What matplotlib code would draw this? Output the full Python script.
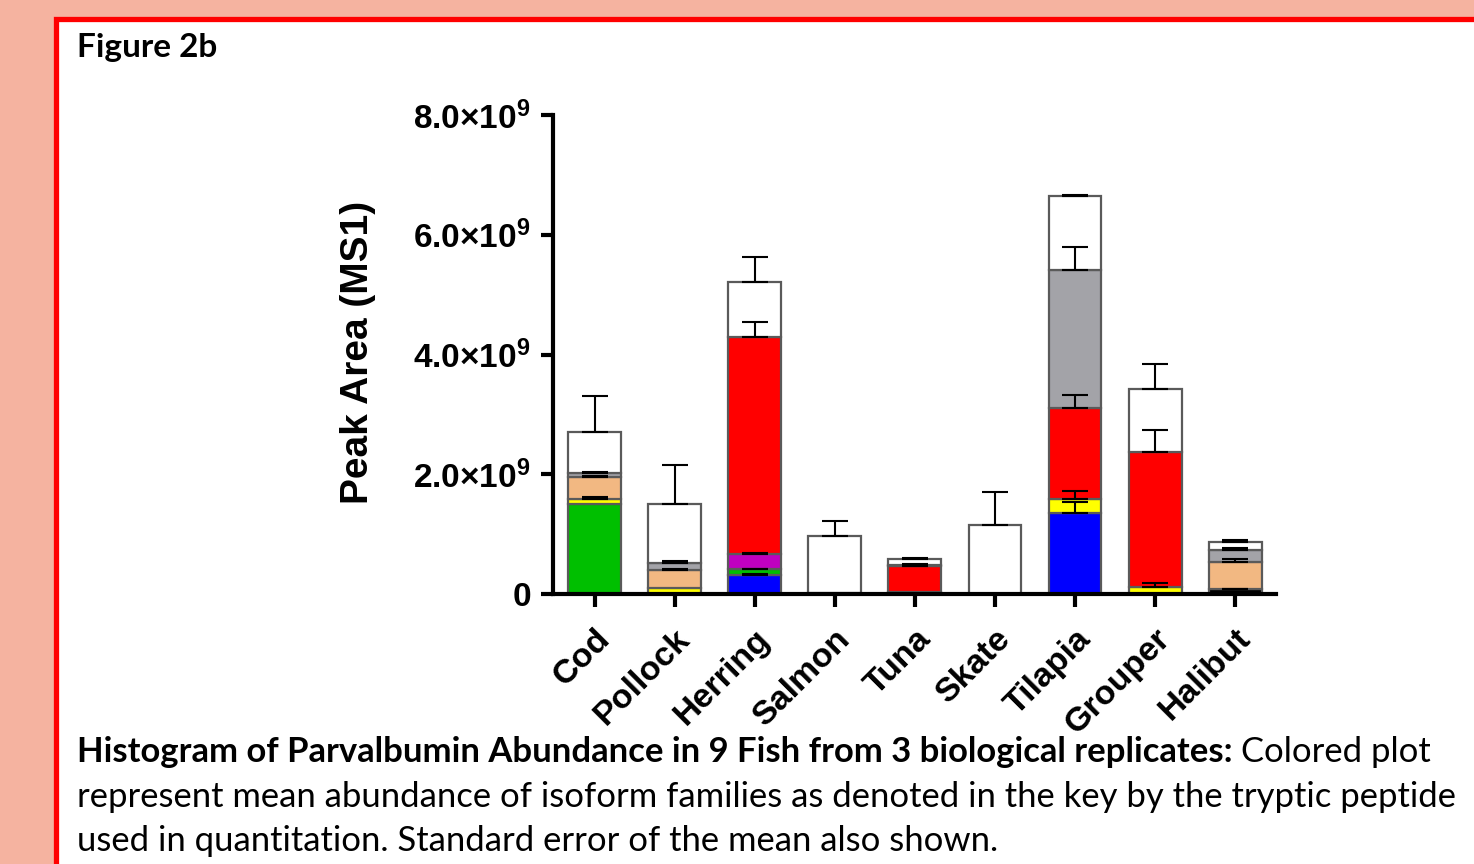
import matplotlib
matplotlib.use("Agg")
import matplotlib.pyplot as plt
import numpy as np
from matplotlib.patches import Rectangle
from matplotlib.transforms import ScaledTranslation

# ---- data (x1e9) ----
fish = ["Cod", "Pollock", "Herring", "Salmon", "Tuna", "Skate", "Tilapia", "Grouper", "Halibut"]

# stacked isoform-family segments, bottom to top
black_vals   = [0, 0, 0, 0, 0.04, 0, 0, 0, 0.08]
blue_vals    = [0, 0, 0.32, 0, 0, 0, 1.36, 0, 0]
green_vals   = [1.50, 0, 0.09, 0, 0, 0, 0, 0, 0]
yellow_vals  = [0.086, 0.095, 0, 0, 0, 0, 0.226, 0.12, 0]
magenta_vals = [0, 0, 0.26, 0, 0, 0, 0, 0, 0]
red_vals     = [0, 0, 3.62, 0, 0.42, 0, 1.514, 2.25, 0]
tan_vals     = [0.372, 0.305, 0, 0, 0.03, 0, 0, 0, 0.46]
gray_vals    = [0.067, 0.12, 0, 0.02, 0, 0, 2.31, 0, 0.195]
white_vals   = [0.675, 0.99, 0.92, 0.953, 0.09, 1.16, 1.23, 1.05, 0.138]

# standard error of the mean per segment
black_sem   = [0, 0, 0, 0, 0, 0, 0, 0, 0.01]
blue_sem    = [0, 0, 0.01, 0, 0, 0, 0.17, 0, 0]
green_sem   = [0.0, 0, 0.01, 0, 0, 0, 0, 0, 0]
yellow_sem  = [0.03, 0, 0, 0, 0, 0, 0.13, 0.06, 0]
magenta_sem = [0, 0, 0.02, 0, 0, 0, 0, 0, 0]
red_sem     = [0, 0, 0.25, 0, 0.01, 0, 0.22, 0.37, 0]
tan_sem     = [0.02, 0.02, 0, 0, 0.01, 0, 0, 0, 0.05]
gray_sem    = [0.01, 0.03, 0, 0, 0, 0, 0.38, 0, 0.025]
white_sem   = [0.61, 0.64, 0.42, 0.25, 0.02, 0.54, 0.03, 0.42, 0.03]

y_ticks = [0, 2, 4, 6, 8]
y_ticklabels = ["0", "2.0×10$^{9}$", "4.0×10$^{9}$", "6.0×10$^{9}$", "8.0×10$^{9}$"]

series = [
    (black_vals, black_sem, "#000000"),
    (blue_vals, blue_sem, "#0000FF"),
    (green_vals, green_sem, "#00BF00"),
    (yellow_vals, yellow_sem, "#FFFF00"),
    (magenta_vals, magenta_sem, "#C000C0"),
    (red_vals, red_sem, "#FF0000"),
    (tan_vals, tan_sem, "#F2B882"),
    (gray_vals, gray_sem, "#A3A3A8"),
    (white_vals, white_sem, "#FFFFFF"),
]

plt.rcParams['mathtext.default'] = 'regular'
plt.rcParams['font.family'] = ['Liberation Sans', 'DejaVu Sans']

W, H = 1474, 864
fig = plt.figure(figsize=(W / 100, H / 100), dpi=100)
fig.patch.set_facecolor("#F5B3A0")

# white panel with red border (behind the axes)
fig.patches.append(Rectangle((55.5 / W, -0.1), 1.2, (H - 18.5) / H + 0.1,
                             transform=fig.transFigure, facecolor="white",
                             edgecolor="#FF0000", linewidth=3.8, zorder=-5))

ax = fig.add_axes([553 / W, (H - 594) / H, 723 / W, 479 / H])
ax.set_facecolor("none")

x = np.arange(len(fish))
bottom = np.zeros(len(fish))
err_x, err_y, err_e = [], [], []
for vals, sem, col in series:
    vals = np.array(vals, dtype=float)
    m = vals > 0
    ax.bar(x[m], vals[m], bottom=bottom[m], width=0.66, color=col,
           edgecolor="#5a5a5a", linewidth=1.6, zorder=2)
    bottom = bottom + vals
    for i in range(len(fish)):
        if sem[i] > 0:
            err_x.append(x[i]); err_y.append(bottom[i]); err_e.append(sem[i])

err_e = np.array(err_e)
ax.errorbar(err_x, err_y, yerr=[np.zeros_like(err_e), err_e], fmt="none",
            ecolor="black", elinewidth=1.5, capsize=9.5, capthick=1.5, zorder=3)

ax.set_xlim(-0.52, 8.51)
ax.set_ylim(0, 8)
ax.set_yticks(y_ticks)
ax.set_yticklabels(y_ticklabels, fontweight="bold", fontsize=24)
ax.set_xticks(x)
ax.set_xticklabels(fish, rotation=45, ha="right", rotation_mode="anchor",
                   fontweight="bold", fontsize=24.5)
shift = ScaledTranslation(-8 / 100, 0, fig.dpi_scale_trans)
for lbl in ax.get_xticklabels():
    lbl.set_transform(lbl.get_transform() + shift)
for s in ["top", "right"]:
    ax.spines[s].set_visible(False)
for s in ["left", "bottom"]:
    ax.spines[s].set_linewidth(3)
ax.tick_params(axis="both", length=9, width=3, direction="out", pad=7)
ax.tick_params(axis="x", pad=12)
ax.set_ylabel("Peak Area (MS1)", fontsize=28, fontweight="bold")
ax.yaxis.set_label_coords(-0.245, 0.505)

# panel text
cap_font = dict(family=["Lato", "DejaVu Sans"], fontsize=24.9)
fig.text(77 / W, 1 - 48 / H, "Figure 2b", fontweight="bold", va="center",
         family=["Lato", "DejaVu Sans"], fontsize=24)
t1 = fig.text(77 / W, 1 - 752 / H,
              "Histogram of Parvalbumin Abundance in 9 Fish from 3 biological replicates:",
              fontweight="bold", va="center", **cap_font)
r = fig.canvas.get_renderer()
bb = t1.get_window_extent(renderer=r)
fig.text(bb.x1 / W + 8 / W, 1 - 752 / H, "Colored plot", va="center", **cap_font)
fig.text(77 / W, 1 - 797 / H,
         "represent mean abundance of isoform families as denoted in the key by the tryptic peptide",
         va="center", **cap_font)
fig.text(77 / W, 1 - 841 / H,
         "used in quantitation. Standard error of the mean also shown.",
         va="center", **cap_font)

fig.savefig("out.png", dpi=100, facecolor=fig.get_facecolor())
